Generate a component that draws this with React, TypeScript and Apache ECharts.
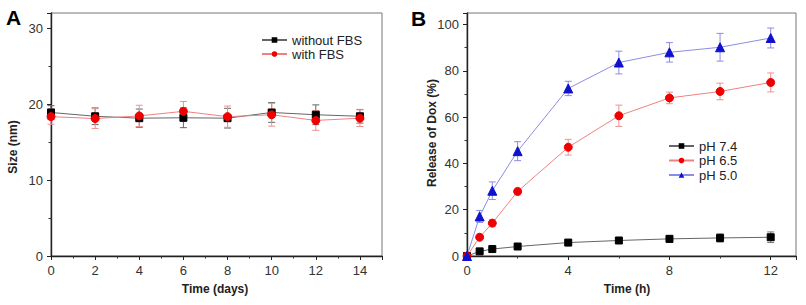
import React, { useEffect, useRef } from "react";
import * as echarts from "echarts";

const daysA = [0, 2, 4, 6, 8, 10, 12, 14];
const withoutFBS = [18.9, 18.4, 18.15, 18.2, 18.15, 18.9, 18.6, 18.4];
const withoutFBSErr = [0.9, 1.1, 1.2, 1.3, 1.3, 1.3, 1.3, 0.9];
const withFBS = [18.35, 18.1, 18.45, 19.05, 18.35, 18.6, 17.85, 18.15];
const withFBSErr = [1.0, 1.3, 1.4, 1.3, 1.4, 1.5, 1.3, 1.1];

const hoursB = [0, 0.5, 1, 2, 4, 6, 8, 10, 12];
const pH74 = [0, 2, 3, 4.1, 5.8, 6.7, 7.4, 7.8, 8.1];
const pH74Err = [0, 0.5, 0.5, 0.8, 0.8, 1.0, 1.5, 1.8, 2.3];
const pH65 = [0, 8.1, 14.2, 27.9, 47, 60.6, 68.3, 71.1, 75];
const pH65Err = [0, 1, 1.5, 1, 3.4, 4.6, 2.5, 3.6, 4.1];
const pH50 = [0, 17.1, 28.2, 45.3, 72.4, 83.6, 88, 90.2, 94.2];
const pH50Err = [0, 2.6, 3.8, 4.1, 3.1, 4.9, 4.2, 6, 4.3];

const FONT = "'Liberation Sans', Arial, sans-serif";

function pairs(xs: number[], ys: number[]) {
  return xs.map((x, i) => [x, ys[i]]);
}
function errs(xs: number[], ys: number[], es: number[]) {
  return xs.map((x, i) => [x, ys[i] - es[i], ys[i] + es[i]]);
}

function errorSeries(name: string, data: number[][], color: string, axis: number) {
  return {
    type: "custom",
    name,
    xAxisIndex: axis,
    yAxisIndex: axis,
    z: 1,
    silent: true,
    encode: { x: 0, y: [1, 2] },
    data,
    renderItem: (params: any, api: any) => {
      const x = api.value(0);
      const lo = api.value(1);
      const hi = api.value(2);
      const p1 = api.coord([x, lo]);
      const p2 = api.coord([x, hi]);
      const w = 3.5;
      const st = { stroke: color, lineWidth: 1 };
      return {
        type: "group",
        children: [
          { type: "line", shape: { x1: p1[0], y1: p1[1], x2: p2[0], y2: p2[1] }, style: st },
          { type: "line", shape: { x1: p1[0] - w, y1: p1[1], x2: p1[0] + w, y2: p1[1] }, style: st },
          { type: "line", shape: { x1: p2[0] - w, y1: p2[1], x2: p2[0] + w, y2: p2[1] }, style: st },
        ],
      };
    },
  };
}

function lineSeries(
  name: string,
  data: number[][],
  lineColor: string,
  markColor: string,
  symbol: string,
  size: number,
  axis: number
) {
  return {
    type: "line",
    name,
    xAxisIndex: axis,
    yAxisIndex: axis,
    z: 3,
    data,
    symbol,
    symbolSize: size,
    showAllSymbol: true,
    lineStyle: { color: lineColor, width: 1 },
    itemStyle: { color: markColor, borderColor: markColor },
  };
}

const axisCommon = {
  axisLine: { show: true, onZero: false, lineStyle: { color: "#222", width: 1.4 } },
  axisTick: { show: true, inside: false, length: 4, lineStyle: { color: "#222" } },
  minorTick: { show: true, splitNumber: 2, length: 2.5, lineStyle: { color: "#333" } },
  splitLine: { show: false },
  axisLabel: { color: "#333", fontSize: 13, fontFamily: FONT, margin: 8, showMaxLabel: false },
};

const legendText = { fontSize: 13, color: "#222", fontFamily: FONT, lineHeight: 14 };

export default function App() {
  const ref = useRef<HTMLDivElement>(null);
  useEffect(() => {
    if (!ref.current) return;
    const chart = echarts.init(ref.current, undefined, { renderer: "svg" });
    const option: any = {
      animation: false,
      backgroundColor: "#fff",
      textStyle: { fontFamily: FONT },
      grid: [
        { left: 51, right: 424, top: 13, bottom: 49, show: true, borderColor: "#777", borderWidth: 1, containLabel: false, outerBoundsMode: "none" },
        { left: 467, right: 10, top: 13, bottom: 49, show: true, borderColor: "#777", borderWidth: 1, containLabel: false, outerBoundsMode: "none" },
      ],
      xAxis: [
        { ...axisCommon, type: "value", gridIndex: 0, min: 0, max: 15, interval: 2 },
        { ...axisCommon, type: "value", gridIndex: 1, min: 0, max: 13, interval: 4 },
      ],
      yAxis: [
        { ...axisCommon, type: "value", gridIndex: 0, min: 0, max: 32, interval: 10 },
        { ...axisCommon, type: "value", gridIndex: 1, min: 0, max: 105, interval: 20 },
      ],
      legend: [
        {
          data: ["without FBS", "with FBS"],
          orient: "vertical",
          left: 261,
          top: 33,
          padding: 0,
          itemWidth: 25,
          itemHeight: 7,
          itemGap: 0,
          textStyle: legendText,
        },
        {
          data: ["pH 7.4", "pH 6.5", "pH 5.0"],
          orient: "vertical",
          left: 668,
          top: 139,
          padding: 0,
          itemWidth: 25,
          itemHeight: 7,
          itemGap: 0.5,
          textStyle: legendText,
        },
      ],
      graphic: [
        { type: "text", left: 6, top: 7, style: { text: "A", font: `bold 21px ${FONT}`, fill: "#000" } },
        { type: "text", left: 411, top: 8, style: { text: "B", font: `bold 21px ${FONT}`, fill: "#000" } },
        {
          type: "text", x: 13, y: 147, rotation: Math.PI / 2,
          style: { text: "Size (nm)", font: `bold 12px ${FONT}`, fill: "#222", textAlign: "center", textVerticalAlign: "middle" },
        },
        {
          type: "text", x: 432, y: 133, rotation: Math.PI / 2,
          style: { text: "Release of Dox (%)", font: `bold 12px ${FONT}`, fill: "#222", textAlign: "center", textVerticalAlign: "middle" },
        },
        {
          type: "text", x: 215, y: 289,
          style: { text: "Time (days)", font: `bold 12px ${FONT}`, fill: "#222", textAlign: "center", textVerticalAlign: "middle" },
        },
        {
          type: "text", x: 627, y: 289,
          style: { text: "Time (h)", font: `bold 12px ${FONT}`, fill: "#222", textAlign: "center", textVerticalAlign: "middle" },
        },
      ],
      series: [
        errorSeries("errA1", errs(daysA, withoutFBS, withoutFBSErr), "#666", 0),
        errorSeries("errA2", errs(daysA, withFBS, withFBSErr), "#f09090", 0),
        lineSeries("without FBS", pairs(daysA, withoutFBS), "#666", "#000", "rect", 7, 0),
        lineSeries("with FBS", pairs(daysA, withFBS), "#f08080", "#ee0000", "circle", 8, 0),
        errorSeries("errB1", errs(hoursB, pH74, pH74Err), "#777", 1),
        errorSeries("errB2", errs(hoursB, pH65, pH65Err), "#f09090", 1),
        errorSeries("errB3", errs(hoursB, pH50, pH50Err), "#8c8ce6", 1),
        lineSeries("pH 7.4", pairs(hoursB, pH74), "#666", "#000", "rect", 7, 1),
        lineSeries("pH 6.5", pairs(hoursB, pH65), "#f08080", "#ee0000", "circle", 8, 1),
        lineSeries("pH 5.0", pairs(hoursB, pH50), "#8c8ce6", "#1010d0", "triangle", 9, 1),
      ],
    };
    chart.setOption(option);
    return () => chart.dispose();
  }, []);
  return (
    <div
      ref={ref}
      style={{ position: "absolute", left: 0, top: 0, width: 806, height: 305, background: "#fff" }}
    />
  );
}
